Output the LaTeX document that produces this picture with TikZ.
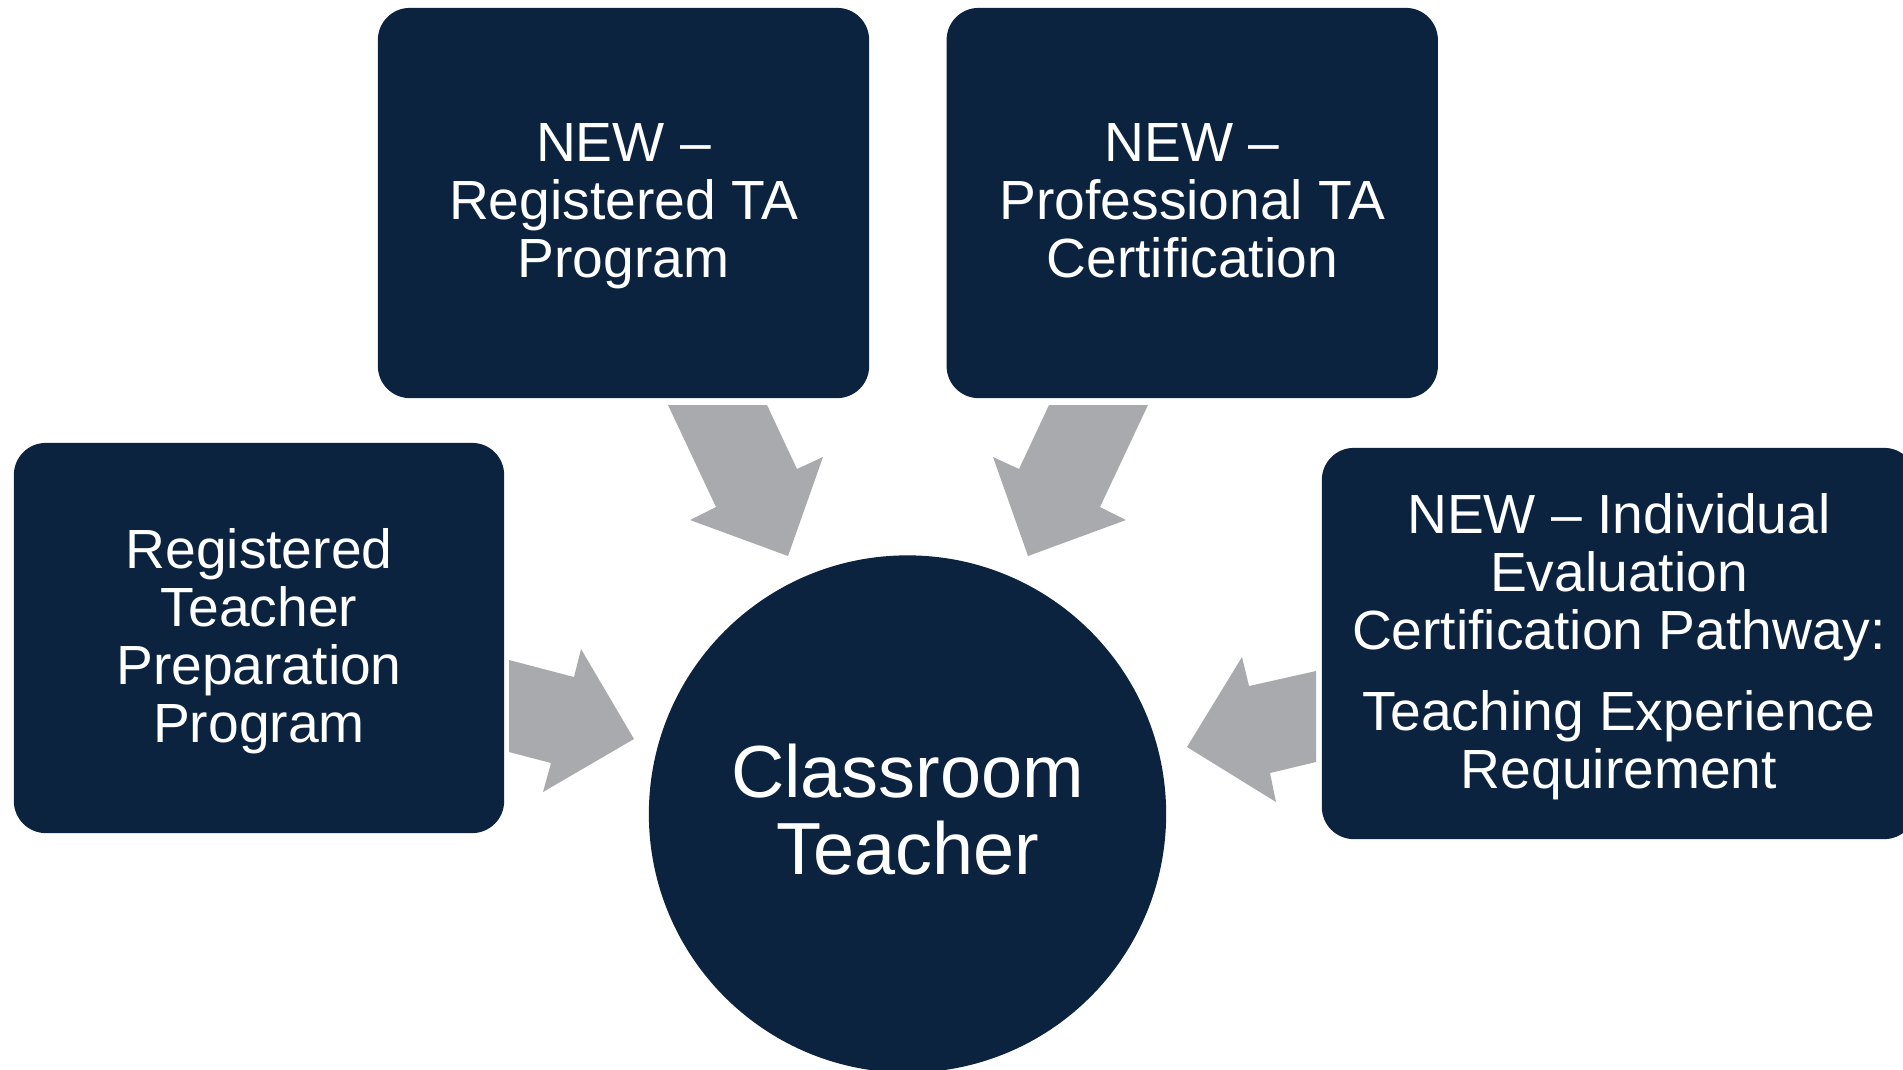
\documentclass[tikz,border=0pt]{standalone}
\usepackage{fontspec}
\setmainfont{Liberation Sans}
\usepackage{xcolor}
\usetikzlibrary{positioning}

\definecolor{navy}{HTML}{0B233F}
\definecolor{arrowgray}{HTML}{A9AAAD}

\tikzset{
  pathbox/.style={rectangle, rounded corners=0.32cm, fill=navy, text=white,
    align=center, inner sep=0pt, text depth=1.5pt, font=\fontsize{15.7}{16.5}\selectfont},
  goal/.style={circle, fill=navy, text=white, align=center, inner sep=0pt,
    text depth=2.8pt, minimum size=5.17cm, font=\fontsize{21}{21.8}\selectfont},
  flowarrow/.style={fill=arrowgray}
}

\begin{document}
\begin{tikzpicture}[x=0.01cm, y=-0.01cm]
    \clip (0,0) rectangle (1903,1069);

    % Pathways
    \node[pathbox, minimum width=4.91cm, minimum height=3.90cm] (ta) at (623.5,203) {NEW –\\Registered TA\\Program};
    \node[pathbox, minimum width=4.91cm, minimum height=3.90cm, right=0.76cm of ta] (prof) {NEW –\\Professional TA\\Certification};
    \node[pathbox, minimum width=4.90cm, minimum height=3.90cm] (prep) at (259,638) {Registered\\Teacher\\Preparation\\Program};
    \node[pathbox, minimum width=5.94cm, minimum height=3.91cm] (iec) at (1619,643.5) {NEW – Individual\\Evaluation\\Certification Pathway:\\[6.7pt]Teaching Experience\\Requirement};

    % Goal
    \node[goal] (teacher) at (907.5,814) {Classroom\\Teacher};

    % Arrows
    \fill[flowarrow] (668,405) -- (767,405) -- (797,469) -- (823,457) -- (788,556) -- (690,520) -- (716,507) -- cycle;
    \fill[flowarrow] (1148,405) -- (1049,405) -- (1019,469) -- (993,457) -- (1028,556) -- (1126,520) -- (1100,507) -- cycle;
    \fill[flowarrow] (509,660) -- (574,677) -- (581,649) -- (634,739) -- (543,792) -- (551,763) -- (509,752) -- cycle;
    \fill[flowarrow] (1316,671) -- (1249,686) -- (1242,657) -- (1187,747) -- (1276,802) -- (1270,773) -- (1316,762) -- cycle;
\end{tikzpicture}
\end{document}
